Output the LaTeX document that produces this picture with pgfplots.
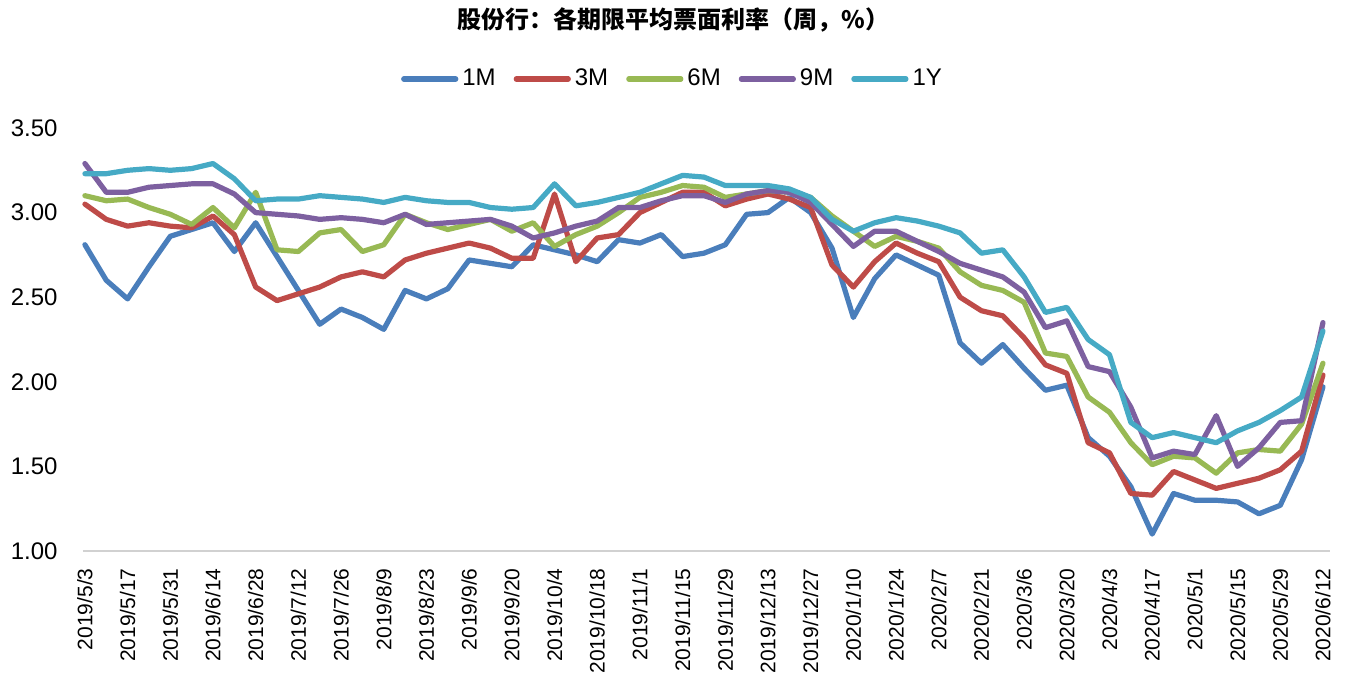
\documentclass[border=0pt]{standalone}
\usepackage{fontspec}
\setmainfont{Liberation Sans}
\newfontfamily\cjk{Noto Sans CJK SC}
\usepackage{pgfplots}
\usepackage{pgfplotstable}
\pgfplotsset{compat=1.18}
\definecolor{c1}{HTML}{4A7EBB}
\definecolor{c3}{HTML}{BE4B48}
\definecolor{c6}{HTML}{98B954}
\definecolor{c9}{HTML}{7D60A0}
\definecolor{cy}{HTML}{46AAC5}
\pgfplotstableread{
i m1 m3 m6 m9 y1
0 2.81 3.05 3.10 3.29 3.23
1 2.60 2.96 3.07 3.12 3.23
2 2.49 2.92 3.08 3.12 3.25
3 2.68 2.94 3.03 3.15 3.26
4 2.86 2.92 2.99 3.16 3.25
5 2.90 2.91 2.93 3.17 3.26
6 2.94 2.98 3.03 3.17 3.29
7 2.77 2.87 2.91 3.11 3.20
8 2.94 2.56 3.12 3.00 3.07
9 2.74 2.48 2.78 2.99 3.08
10 2.54 2.52 2.77 2.98 3.08
11 2.34 2.56 2.88 2.96 3.10
12 2.43 2.62 2.90 2.97 3.09
13 2.38 2.65 2.77 2.96 3.08
14 2.31 2.62 2.81 2.94 3.06
15 2.54 2.72 2.99 2.99 3.09
16 2.49 2.76 2.94 2.93 3.07
17 2.55 2.79 2.90 2.94 3.06
18 2.72 2.82 2.93 2.95 3.06
19 2.70 2.79 2.96 2.96 3.03
20 2.68 2.73 2.89 2.92 3.02
21 2.81 2.73 2.94 2.85 3.03
22 2.78 3.11 2.80 2.88 3.17
23 2.75 2.71 2.87 2.92 3.04
24 2.71 2.85 2.92 2.95 3.06
25 2.84 2.87 3.00 3.03 3.09
26 2.82 3.00 3.09 3.03 3.12
27 2.87 3.06 3.12 3.07 3.17
28 2.74 3.12 3.16 3.10 3.22
29 2.76 3.12 3.15 3.10 3.21
30 2.81 3.04 3.09 3.06 3.16
31 2.99 3.08 3.11 3.11 3.16
32 3.00 3.11 3.13 3.13 3.16
33 3.09 3.08 3.12 3.12 3.14
34 3.00 3.03 3.09 3.06 3.09
35 2.79 2.69 2.98 2.93 2.96
36 2.38 2.56 2.89 2.80 2.89
37 2.61 2.71 2.80 2.89 2.94
38 2.75 2.82 2.86 2.89 2.97
39 2.69 2.76 2.83 2.83 2.95
40 2.63 2.71 2.79 2.77 2.92
41 2.23 2.50 2.65 2.70 2.88
42 2.11 2.42 2.57 2.66 2.76
43 2.22 2.39 2.54 2.62 2.78
44 2.08 2.26 2.47 2.53 2.62
45 1.95 2.10 2.17 2.32 2.41
46 1.98 2.05 2.15 2.36 2.44
47 1.67 1.64 1.91 2.09 2.25
48 1.56 1.58 1.82 2.06 2.16
49 1.38 1.34 1.64 1.85 1.76
50 1.10 1.33 1.51 1.55 1.67
51 1.34 1.47 1.56 1.59 1.70
52 1.30 1.42 1.55 1.57 1.67
53 1.30 1.37 1.46 1.80 1.64
54 1.29 1.40 1.58 1.50 1.71
55 1.22 1.43 1.60 1.61 1.76
56 1.27 1.48 1.59 1.76 1.83
57 1.54 1.59 1.75 1.77 1.91
58 1.97 2.04 2.11 2.35 2.30
}\datatable
\begin{document}
\begin{tikzpicture}
\path[use as bounding box] (-41.5pt,-67.5pt) rectangle (631.5pt,275.5pt);
\begin{axis}[
  at={(0pt,0pt)}, anchor=south west,
  scale only axis, width=623.5pt, height=211.5pt,
  xmin=-0.09, xmax=58.33, ymin=1, ymax=3.5,
  clip=false,
  axis x line*=bottom, axis y line*=left,
  x axis line style={draw=black!18, line width=0.8pt},
  y axis line style={draw=none},
  major tick length=0pt,
  /pgf/number format/assume math mode=true,
  ytick={1,1.5,2,2.5,3,3.5},
  yticklabel style={/pgf/number format/fixed,/pgf/number format/fixed zerofill,/pgf/number format/precision=2,
    font=\fontsize{12}{14}\selectfont, inner sep=0pt, anchor=east},
  yticklabel shift=12.5pt,
  xtick={0,2,...,58},
  xticklabels={2019/5/3,2019/5/17,2019/5/31,2019/6/14,2019/6/28,2019/7/12,2019/7/26,2019/8/9,2019/8/23,2019/9/6,2019/9/20,2019/10/4,2019/10/18,2019/11/1,2019/11/15,2019/11/29,2019/12/13,2019/12/27,2020/1/10,2020/1/24,2020/2/7,2020/2/21,2020/3/6,2020/3/20,2020/4/3,2020/4/17,2020/5/1,2020/5/15,2020/5/29,2020/6/12},
  xticklabel style={font=\fontsize{10.5}{12}\selectfont, rotate=90, anchor=east, inner sep=0pt},
  xticklabel shift=8.5pt,
  title={\cjk\bfseries 股份行：各期限平均票面利率（周，\%）},
  title style={at={(0.5,1)}, anchor=center, yshift=48pt, xshift=-16.5pt, font=\fontsize{12}{14}\selectfont},
  legend columns=5,
  legend image code/.code={\draw[#1] (0pt,0pt) -- (26pt,0pt);},
  legend style={at={(0.5,1)}, anchor=center, yshift=24.5pt, xshift=-16.5pt, draw=none, fill=none,
    font=\fontsize{12}{14}\selectfont,
    /tikz/every even column/.append style={column sep=7pt}},
  every axis plot/.append style={line width=2.6pt, line join=round, line cap=round},
]
\addplot[c1] table[x=i,y=m1]{\datatable};
\addlegendentry{1M}
\addplot[c3] table[x=i,y=m3]{\datatable};
\addlegendentry{3M}
\addplot[c6] table[x=i,y=m6]{\datatable};
\addlegendentry{6M}
\addplot[c9] table[x=i,y=m9]{\datatable};
\addlegendentry{9M}
\addplot[cy] table[x=i,y=y1]{\datatable};
\addlegendentry{1Y}
\end{axis}
\end{tikzpicture}
\end{document}
